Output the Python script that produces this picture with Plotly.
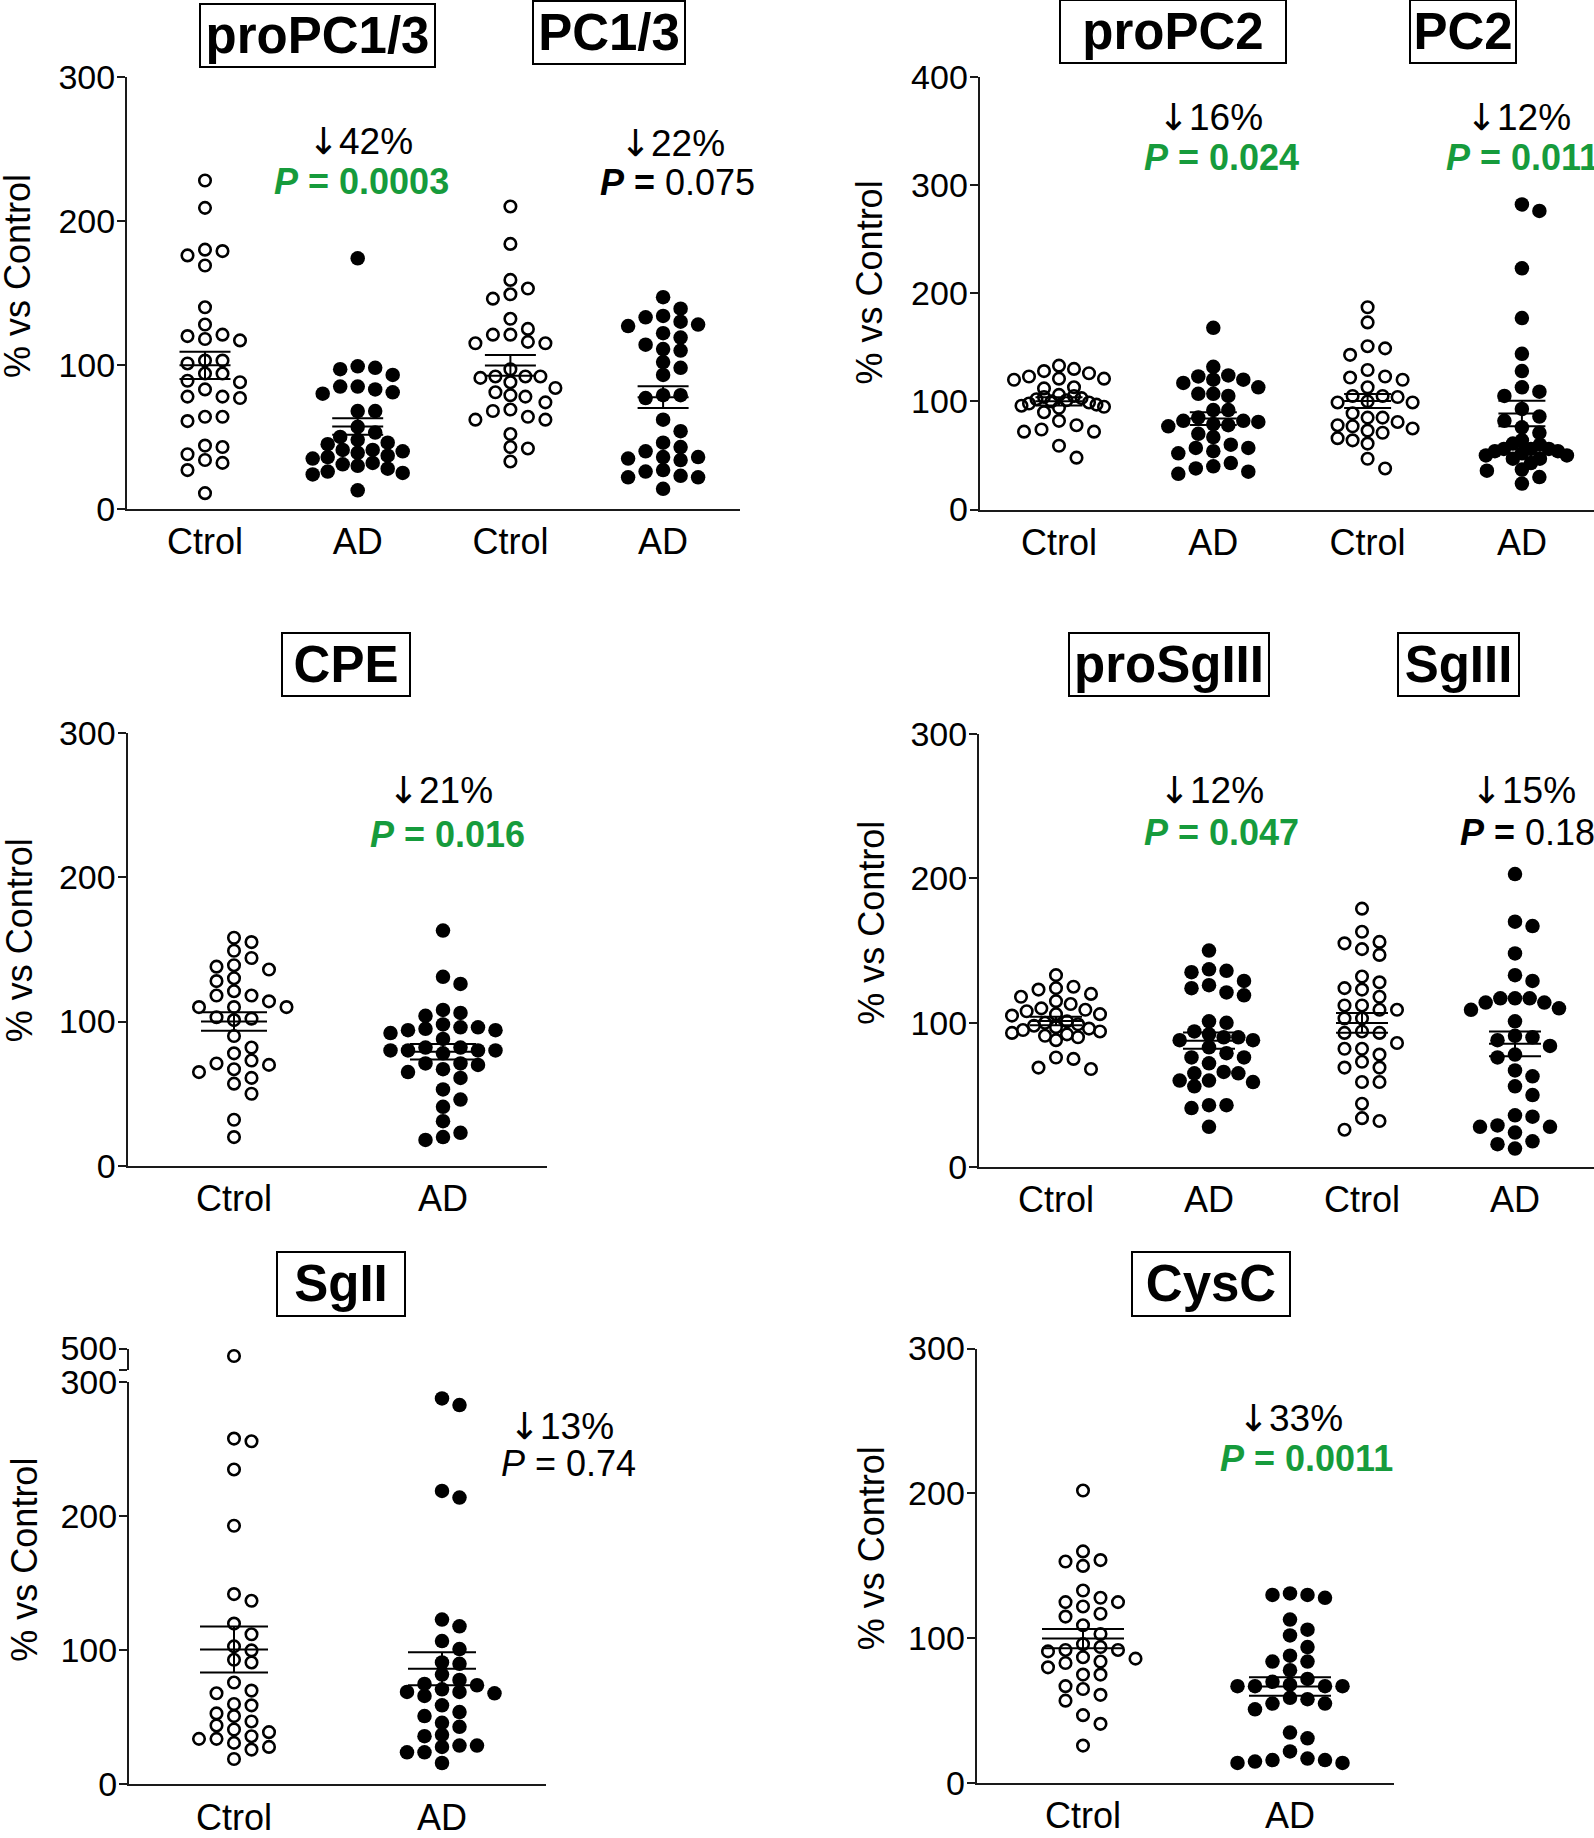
import math
import plotly.graph_objects as go

W, H = 1594, 1838

# ---------------- data (% vs control) ----------------
propc13_ctrl = [228, 209, 179, 176, 180, 169, 140, 128, 120, 117, 118, 121, 103, 103, 101, 94, 94,
                88, 89, 83, 78, 77, 78, 64, 61, 64, 43, 44, 38, 34, 32, 27, 11]
propc13_ad = [174, 98, 99, 97, 93, 85, 85, 81, 80, 83, 68, 68, 57, 53, 50, 48, 46, 45, 41, 40, 41,
              36, 39, 37, 35, 32, 31, 30, 28, 25, 26, 24, 13]
pc13_ctrl = [210, 184, 159, 153, 149, 146, 132, 125, 121, 115, 115, 116, 121, 92, 91, 97, 88, 92, 92,
             84, 81, 79, 78, 74, 69, 68, 64, 62, 62, 52, 43, 42, 33]
pc13_ad = [147, 139, 133, 134, 130, 122, 128, 127, 119, 114, 110, 111, 98, 102, 93, 79, 77, 79, 62,
           54, 46, 40, 43, 36, 34, 35, 36, 26, 22, 27, 22, 23, 14]
propc2_ctrl = [133, 130, 128, 126, 123, 121, 120, 121, 113, 112, 106, 105, 104, 103, 102, 101, 100,
               99, 98, 97, 96, 95, 94, 90, 82, 78, 74, 72, 72, 59, 48]
propc2_ad = [168, 132, 124, 120, 117, 123, 120, 105, 107, 107, 113, 92, 92, 85, 81, 82, 82, 77, 79,
             78, 70, 67, 57, 57, 60, 54, 52, 43, 40, 38, 35, 33]
pc2_ctrl = [187, 173, 149, 151, 143, 129, 123, 120, 122, 113, 105, 104, 105, 99, 99, 100, 89, 85, 85,
            78, 81, 75, 71, 73, 77, 64, 61, 66, 47, 38]
pc2_ad = [282, 276, 223, 177, 144, 128, 113, 109, 105, 93, 86, 82, 71, 76, 64, 60, 61, 56, 54, 52,
          54, 56, 56, 47, 43, 47, 37, 30, 24, 50, 50, 36]
cpe_ctrl = [158, 155, 149, 144, 139, 136, 138, 128, 130, 121, 118, 118, 114, 110, 110, 110, 103, 101,
            102, 90, 82, 78, 73, 70, 71, 65, 67, 61, 57, 50, 32, 20]
cpe_ad = [163, 131, 126, 108, 104, 106, 98, 96, 94, 92, 94, 95, 96, 88, 82, 80, 78, 80, 80, 80, 82,
          71, 71, 70, 65, 67, 61, 53, 46, 41, 31, 23, 20, 18]
prosg3_ctrl = [133, 124, 125, 120, 123, 118, 115, 113, 110, 109, 108, 106, 105, 106, 101, 100, 99,
               98, 97, 96, 95, 94, 93, 92, 91, 90, 88, 75, 76, 68, 69]
prosg3_ad = [150, 136, 135, 137, 129, 126, 124, 119, 121, 101, 100, 94, 90, 88, 90, 88, 92, 83, 76,
             72, 76, 79, 65, 65, 66, 60, 56, 59, 60, 43, 41, 43, 28]
sg3_ctrl = [179, 163, 155, 156, 151, 147, 132, 128, 124, 123, 118, 112, 112, 109, 109, 103, 103, 93,
            94, 93, 86, 82, 82, 78, 73, 69, 69, 59, 59, 44, 34, 32, 26]
sg3_ad = [203, 170, 167, 148, 133, 129, 117, 117, 114, 109, 110, 114, 117, 101, 91, 84, 90, 88, 76,
          78, 67, 63, 56, 50, 35, 36, 28, 28, 29, 24, 18, 13, 16]
sg2_ctrl = [466, 258, 256, 235, 193, 142, 137, 120, 112, 103, 100, 91, 93, 76, 70, 68, 59, 60, 53,
            51, 44, 47, 39, 41, 36, 34, 34, 28, 31, 26, 19]
sg2_ad = [288, 283, 219, 214, 123, 118, 107, 101, 91, 90, 82, 78, 74, 75, 71, 69, 68, 66, 69, 59,
          54, 51, 46, 43, 37, 36, 29, 29, 28, 24, 24, 16]
cysc_ctrl = [202, 160, 154, 153, 150, 133, 128, 125, 125, 122, 117, 115, 109, 103, 94, 92, 96, 92,
             91, 86, 83, 87, 84, 80, 75, 75, 67, 65, 61, 57, 47, 41, 26]
cysc_ad = [130, 128, 130, 131, 113, 106, 102, 94, 88, 84, 84, 78, 72, 70, 67, 67, 67, 67, 68, 59,
           55, 51, 55, 58, 35, 31, 22, 16, 15, 14, 14, 16, 17]

cat4 = ["Ctrol", "AD", "Ctrol", "AD"]
cat2 = ["Ctrol", "AD"]
ytitle = "% vs Control"

titles = ["proPC1/3", "PC1/3", "proPC2", "PC2", "CPE", "proSgIII", "SgIII", "SgII", "CysC"]
drops = ["42%", "22%", "16%", "12%", "21%", "12%", "15%", "13%", "33%"]
pvals = ["0.0003", "0.075", "0.024", "0.011", "0.016", "0.047", "0.18", "0.74", "0.0011"]
psig = [True, False, True, True, True, True, False, None, True]

# ---------------- styling / layout constants ----------------
GREEN = "#169b3c"
AX = "#1a1a1a"
FONT = "Liberation Sans, Arial, Helvetica, sans-serif"
SLOT = 17.5     # horizontal spacing of swarm markers (px)
ROWH = 12.0     # vertical distance under which markers must sit side by side (px)

# vertical calibration of the rendered page (target pixel -> layout pixel)
VOFF, VSCALE = 20.0, 0.9757


def Y(py):
    return (py - VOFF) / VSCALE


panels = [
    dict(groups=[propc13_ctrl, propc13_ad, pc13_ctrl, pc13_ad], labels=cat4,
         xpx=(127, 740), c0=205, step=152.7, ypx=(512, 78), yr=(0, 300),
         yt=[0, 100, 200, 300], barw=51, maxw=45),
    dict(groups=[propc2_ctrl, propc2_ad, pc2_ctrl, pc2_ad], labels=cat4,
         xpx=(979.6, 1594), c0=1059, step=154.3, ypx=(512.6, 78), yr=(0, 400),
         yt=[0, 100, 200, 300, 400], barw=47, maxw=45),
    dict(groups=[cpe_ctrl, cpe_ad], labels=cat2,
         xpx=(127.5, 547), c0=234, step=209, ypx=(1171.7, 736.6), yr=(0, 300),
         yt=[0, 100, 200, 300], barw=66, maxw=55),
    dict(groups=[prosg3_ctrl, prosg3_ad, sg3_ctrl, sg3_ad], labels=cat4,
         xpx=(979, 1594), c0=1056, step=153, ypx=(1173, 737.8), yr=(0, 300),
         yt=[0, 100, 200, 300], barw=52, maxw=44),
    dict(groups=[sg2_ctrl, sg2_ad], labels=cat2,
         xpx=(129, 546), c0=234, step=208, ypx=(1792.7, 1388.9), yr=(0, 300),
         yt=[0, 100, 200, 300], barw=68, maxw=60,
         upper=dict(ypx=(1377, 1355), yr=(400, 500))),
    dict(groups=[cysc_ctrl, cysc_ad], labels=cat2,
         xpx=(976.6, 1394), c0=1083, step=207, ypx=(1791.5, 1355), yr=(0, 300),
         yt=[0, 100, 200, 300], barw=82, maxw=62),
]

ytitle_pos = [(18, 278), (869.5, 284), (19, 945), (871.5, 928), (25, 1567), (871.5, 1556)]
title_boxes = [(199, 436, 5, 68), (532, 686, 2, 65), (1059, 1287, 1, 64), (1409, 1517, 1, 64),
               (281, 411, 637, 700), (1068, 1270, 637, 700), (1397, 1520, 637, 700),
               (276, 406, 1258, 1322), (1131, 1291, 1258, 1322)]
drop_pos = [(360, 143, "center"), (672, 145, "center"), (1210, 119, "center"), (1518, 119, "center"),
            (441, 795, "center"), (1211, 795, "center"), (1523, 795, "center"),
            (561, 1433, "center"), (1290, 1425, "center")]
p_pos = [(361, 183, "center"), (677, 184, "center"), (1221, 159, "center"), (1444, 159, "left"),
         (447, 839, "center"), (1221, 837, "center"), (1458, 837, "left"),
         (568, 1470, "center"), (1306, 1465, "center")]


def px2x(px):
    return px / W


def px2y(py):
    return 1 - py / H


def swarm(vals, ppu, slot, rowh, maxw):
    """Row-style beeswarm: markers closer than rowh vertically sit >= slot apart;
    rows wider than maxw are squeezed uniformly."""
    order = sorted(range(len(vals)), key=lambda i: -vals[i])
    placed = []
    xs = [0.0] * len(vals)
    for i in order:
        y = vals[i] * ppu
        near = [xj for (xj, yj) in placed if abs(y - yj) < rowh]
        forb = [(xj - slot, xj + slot) for xj in near]
        cands = [0.0] + [xj - slot for xj in near] + [xj + slot for xj in near]
        pref = -1 if sum(near) > 0 else 1
        cands.sort(key=lambda c: (round(abs(c), 6), 0 if c * pref >= 0 else 1))
        for c in cands:
            if all(not (a + 1e-6 < c < b - 1e-6) for a, b in forb):
                xs[i] = c
                break
        placed.append((xs[i], y))
    ys = [v * ppu for v in vals]
    out = []
    for i in range(len(vals)):
        ext = max(abs(xs[j]) for j in range(len(vals)) if abs(ys[j] - ys[i]) < rowh)
        out.append(xs[i] * (maxw / ext) if ext > maxw else xs[i])
    return out


def mean_sem(v):
    n = len(v)
    m = sum(v) / n
    sd = math.sqrt(sum((x - m) ** 2 for x in v) / (n - 1))
    return m, sd / math.sqrt(n)


fig = go.Figure()
layout = {}
annotations = []
ax_n = 0

for pi, p in enumerate(panels):
    ax_n += 1
    xn = ax_n
    yn = ax_n
    xname, yname = f"x{xn}", f"y{yn}"
    x0, x1 = p["xpx"]
    rng = [(x0 - p["c0"]) / p["step"], (x1 - p["c0"]) / p["step"]]
    ybot, ytop = p["ypx"]
    ppu = (ybot - ytop) / (p["yr"][1] - p["yr"][0])

    layout[f"xaxis{xn}"] = dict(
        domain=[px2x(x0), min(1.0, px2x(x1))], range=rng, anchor=yname,
        tickvals=list(range(len(p["labels"]))), ticktext=p["labels"], ticks="",
        tickfont=dict(size=36, family=FONT, color="black"), showline=True, linecolor=AX,
        linewidth=2, showgrid=False, zeroline=False, ticklabelstandoff=0)
    layout[f"yaxis{yn}"] = dict(
        domain=[px2y(Y(ybot)), px2y(Y(ytop))], range=list(p["yr"]), anchor=xname,
        tickvals=p["yt"], ticks="outside", ticklen=8, tickwidth=2, tickcolor=AX,
        tickfont=dict(size=34, family=FONT, color="black"), showline=True, linecolor=AX,
        linewidth=2, showgrid=False, zeroline=False, ticklabelstandoff=-5)

    up = p.get("upper")
    if up:
        ax_n += 1
        yun = ax_n
        ub, ut = up["ypx"]
        layout[f"yaxis{yun}"] = dict(
            domain=[px2y(Y(ub)), px2y(Y(ut))], range=list(up["yr"]), anchor=xname,
            tickvals=list(up["yr"]), ticktext=["", str(up["yr"][1])], ticks="outside",
            ticklen=8, tickwidth=2, tickcolor=AX,
            tickfont=dict(size=34, family=FONT, color="black"), showline=True,
            linecolor=AX, linewidth=2, showgrid=False, zeroline=False, ticklabelstandoff=-5)
        uppu = (ub - ut) / (up["yr"][1] - up["yr"][0])

    means, sems = [], []
    for gi, vals in enumerate(p["groups"]):
        filled = gi % 2 == 1
        if filled:
            mk = dict(symbol="circle", size=14.5, color="black", line=dict(width=0))
        else:
            mk = dict(symbol="circle-open", size=11.5, color="black",
                      line=dict(width=2.6, color="black"))
        low = [v for v in vals if v <= p["yr"][1]]
        offs = swarm(low, ppu, SLOT, ROWH, p["maxw"])
        fig.add_trace(go.Scatter(
            x=[gi + o / p["step"] for o in offs], y=low, mode="markers", marker=mk,
            xaxis=xname, yaxis=yname, cliponaxis=False, hoverinfo="y"))
        if up:
            hi = [v for v in vals if v > p["yr"][1]]
            if hi:
                offs_h = swarm(hi, uppu, SLOT, ROWH, p["maxw"])
                fig.add_trace(go.Scatter(
                    x=[gi + o / p["step"] for o in offs_h], y=hi, mode="markers", marker=mk,
                    xaxis=xname, yaxis=f"y{yun}", cliponaxis=False, hoverinfo="y"))
        m, s = mean_sem(vals)
        means.append(m)
        sems.append(s)

    fig.add_trace(go.Scatter(
        x=list(range(len(means))), y=means, mode="markers",
        marker=dict(symbol="line-ew", size=p["barw"] / 1.4, color="black",
                    line=dict(width=2, color="black")),
        error_y=dict(type="data", array=sems, width=p["barw"] / 2, thickness=2, color="black"),
        xaxis=xname, yaxis=yname, cliponaxis=False, hoverinfo="y"))

    tx, ty = ytitle_pos[pi]
    annotations.append(dict(
        x=px2x(tx), y=px2y(Y(ty)), xref="paper", yref="paper", text=ytitle, showarrow=False,
        textangle=-90, font=dict(size=36, family=FONT, color="black"),
        xanchor="center", yanchor="middle"))

ARROW = "<span style=\"font-family:'DejaVu Sans'\">\u2193</span>"

for ti, t in enumerate(titles):
    bx0, bx1, by0, by1 = title_boxes[ti]
    top = Y(by0)
    bot = Y(by1)
    annotations.append(dict(
        x=px2x((bx0 + bx1) / 2), y=px2y((top + bot) / 2), xref="paper", yref="paper",
        text=f"<b>{t}</b>", showarrow=False, font=dict(size=51, family=FONT, color="black"),
        bordercolor="black", borderwidth=2, borderpad=0, width=bx1 - bx0 - 4,
        height=bot - top - 4, xanchor="center", yanchor="middle", align="center",
        valign="middle", bgcolor="white"))

    dx, dy, da = drop_pos[ti]
    annotations.append(dict(
        x=px2x(dx), y=px2y(Y(dy)), xref="paper", yref="paper", text=ARROW + drops[ti],
        showarrow=False, font=dict(size=37, family=FONT, color="black"),
        xanchor=da, yanchor="middle"))

    sx, sy, sa = p_pos[ti]
    if psig[ti] is True:
        txt = f"<b><i>P</i> = {pvals[ti]}</b>"
        col = GREEN
    elif psig[ti] is False:
        txt = f"<b><i>P</i> =</b> {pvals[ti]}"
        col = "black"
    else:
        txt = f"<i>P</i> = {pvals[ti]}"
        col = "black"
    annotations.append(dict(
        x=px2x(sx), y=px2y(Y(sy)), xref="paper", yref="paper", text=txt, showarrow=False,
        font=dict(size=36, family=FONT, color=col), xanchor=sa, yanchor="middle"))

fig.update_layout(
    width=W, height=H, margin=dict(l=0, r=0, t=0, b=0), paper_bgcolor="white",
    plot_bgcolor="white", showlegend=False, annotations=annotations,
    font=dict(family=FONT, color="black"), **layout)

fig.write_html(
    "out.html",
    config={"displayModeBar": False},
    post_script=("document.documentElement.style.margin='0';"
                 "document.body.style.margin='0';document.body.style.padding='0';"
                 "document.documentElement.style.overflow='hidden';"
                 "document.body.style.overflow='hidden';"))
